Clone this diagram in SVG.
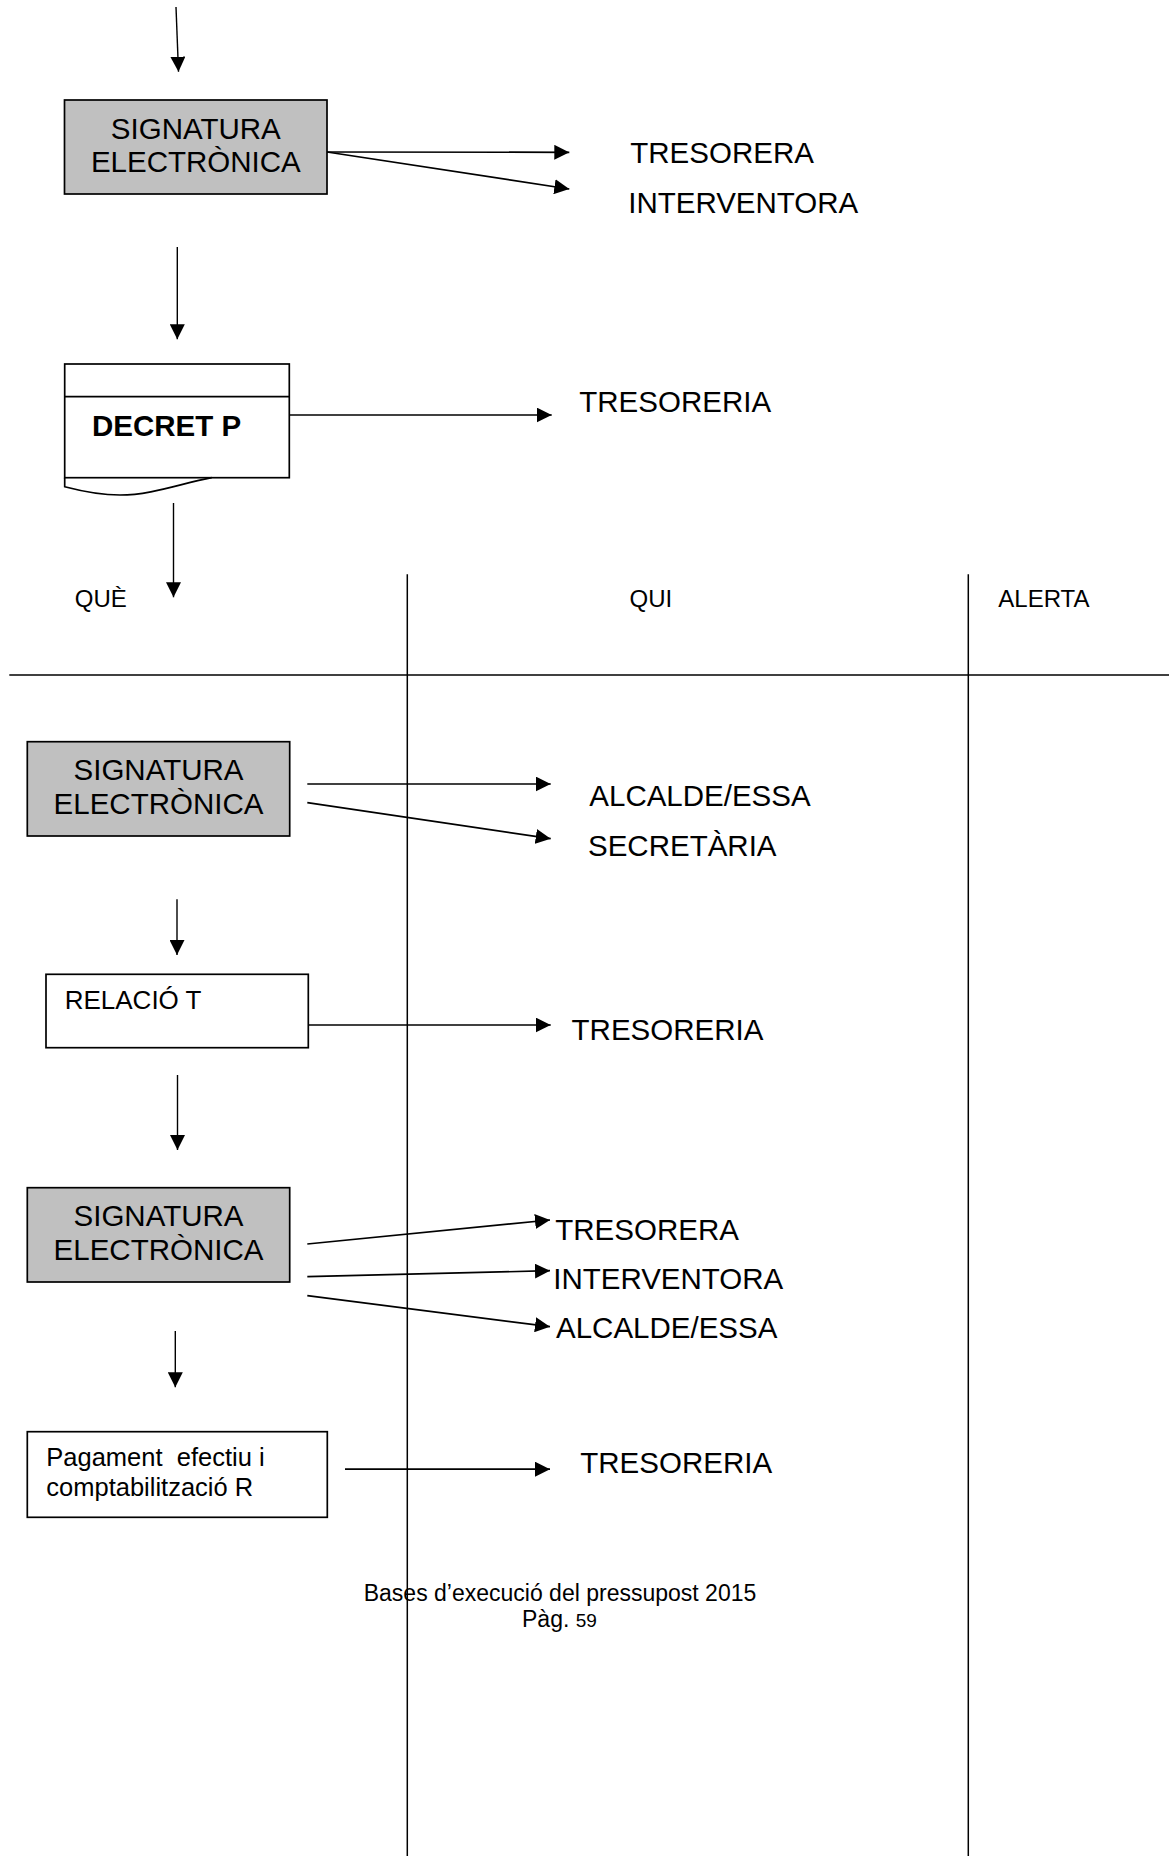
<svg xmlns="http://www.w3.org/2000/svg" width="1169" height="1856" viewBox="0 0 1169 1856">
<style>
text{font-family:"Liberation Sans",Arial,sans-serif;fill:#000}
.lbl{font-size:29.5px}
.box{stroke:#000;stroke-width:1.7}
.grey{fill:#c0c0c0}
.white{fill:#fff}
.c{fill:none;stroke:#000;stroke-width:1.7}
.v{fill:none;stroke:#000;stroke-width:1.4}
.grid{fill:none;stroke:#000;stroke-width:1.5}
.mid{text-anchor:middle}
.hdr{font-size:24px}
</style>
<defs>
<marker id="ah" markerUnits="userSpaceOnUse" markerWidth="15" markerHeight="15" refX="15" refY="7.5" orient="auto" viewBox="0 0 15 15">
<path d="M0,0 L15,7.5 L0,15 z" fill="#000"/>
</marker>
</defs>
<rect width="1169" height="1856" fill="#fff"/>

<g id="table">
<line class="grid" x1="407.3" y1="574.3" x2="407.3" y2="1856"/>
<line class="grid" x1="968.3" y1="574.3" x2="968.3" y2="1856"/>
<line class="grid" x1="9.3" y1="675" x2="1169" y2="675" stroke-width="1.7"/>
<text class="hdr" x="74.8" y="606.7">QUÈ</text>
<text class="hdr" x="629.5" y="607.3">QUI</text>
<text class="hdr" x="998.3" y="606.7">ALERTA</text>
</g>

<g id="connectors">
<line class="v" x1="176" y1="7" x2="178.5" y2="71.7" marker-end="url(#ah)"/>
<line class="v" x1="177.3" y1="247" x2="177.3" y2="339.3" marker-end="url(#ah)"/>
<line class="v" x1="173.5" y1="503" x2="173.5" y2="597.3" marker-end="url(#ah)"/>
<line class="v" x1="177" y1="899.3" x2="177" y2="955" marker-end="url(#ah)"/>
<line class="v" x1="177.5" y1="1075" x2="177.5" y2="1150" marker-end="url(#ah)"/>
<line class="v" x1="175.3" y1="1331" x2="175.3" y2="1387.3" marker-end="url(#ah)"/>

<line class="c" x1="327" y1="152" x2="569.3" y2="152.3" marker-end="url(#ah)"/>
<line class="c" x1="327" y1="152" x2="569.3" y2="189" marker-end="url(#ah)"/>
<line class="c" x1="289.3" y1="415" x2="551.7" y2="415" marker-end="url(#ah)"/>
<line class="c" x1="307.3" y1="784" x2="550.7" y2="784" marker-end="url(#ah)"/>
<line class="c" x1="307.3" y1="802.7" x2="550.7" y2="838.7" marker-end="url(#ah)"/>
<line class="c" x1="308.3" y1="1025" x2="550.7" y2="1025" marker-end="url(#ah)"/>
<line class="c" x1="307.3" y1="1244" x2="550" y2="1220" marker-end="url(#ah)"/>
<line class="c" x1="307.3" y1="1276.7" x2="550" y2="1270.7" marker-end="url(#ah)"/>
<line class="c" x1="307.3" y1="1295.7" x2="550" y2="1326.7" marker-end="url(#ah)"/>
<line class="c" x1="345" y1="1469.2" x2="550" y2="1469.2" marker-end="url(#ah)"/>
</g>

<g id="sig1">
<rect class="box grey" x="64.5" y="100" width="262.5" height="94"/>
<text class="lbl mid" x="195.8" y="139.3">SIGNATURA</text>
<text class="lbl mid" x="195.8" y="171.7">ELECTRÒNICA</text>
</g>

<g id="decret">
<rect class="box white" x="64.7" y="364" width="224.6" height="113.7"/>
<line class="box" x1="64.7" y1="396.7" x2="289.3" y2="396.7"/>
<path class="box" fill="none" d="M64.7,477.7 V486.7 C85,492 100,495 120,495 C152,495 182,483 211.7,477.7"/>
<text class="lbl" x="92" y="435.7" font-weight="bold">DECRET P</text>
</g>

<g id="sig2">
<rect class="box grey" x="27.3" y="741.7" width="262.4" height="94.3"/>
<text class="lbl mid" x="158.5" y="780">SIGNATURA</text>
<text class="lbl mid" x="158.5" y="814">ELECTRÒNICA</text>
</g>

<g id="relacio">
<rect class="box white" x="46" y="974.3" width="262.3" height="73.4"/>
<text x="64.7" y="1009.3" font-size="26">RELACIÓ T</text>
</g>

<g id="sig3">
<rect class="box grey" x="27.3" y="1187.7" width="262.4" height="94.3"/>
<text class="lbl mid" x="158.5" y="1225.7">SIGNATURA</text>
<text class="lbl mid" x="158.5" y="1260">ELECTRÒNICA</text>
</g>

<g id="pagament">
<rect class="box white" x="27.3" y="1431.7" width="300" height="85.6"/>
<text x="46.3" y="1466" font-size="25.5" xml:space="preserve">Pagament  efectiu i</text>
<text x="46.3" y="1496" font-size="25.5">comptabilització R</text>
</g>

<g id="labels">
<text class="lbl" x="630.3" y="163.3">TRESORERA</text>
<text class="lbl" x="628.2" y="212.7">INTERVENTORA</text>
<text class="lbl" x="579.3" y="411.7">TRESORERIA</text>
<text class="lbl" x="589.3" y="805.7">ALCALDE/ESSA</text>
<text class="lbl" x="588" y="855.7">SECRETÀRIA</text>
<text class="lbl" x="571.6" y="1040">TRESORERIA</text>
<text class="lbl" x="555.3" y="1240">TRESORERA</text>
<text class="lbl" x="553.2" y="1289">INTERVENTORA</text>
<text class="lbl" x="556" y="1338.3">ALCALDE/ESSA</text>
<text class="lbl" x="580.3" y="1473.3">TRESORERIA</text>
</g>

<g id="footer">
<text x="560" y="1600.5" font-size="23" text-anchor="middle">Bases d’execució del pressupost 2015</text>
<text x="522" y="1627.3" font-size="23">Pàg. <tspan font-size="19">59</tspan></text>
</g>
</svg>
